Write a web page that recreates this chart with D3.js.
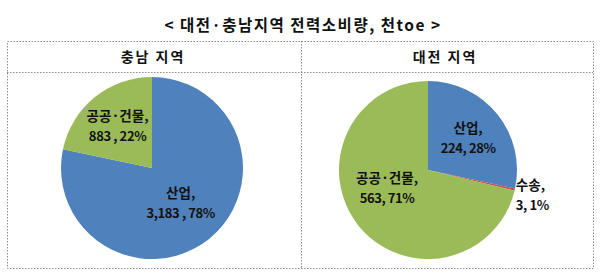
<!DOCTYPE html>
<meta charset="UTF-8">
<style>
body { margin: 0; background: #fff; }
text { font-family: "Noto Sans CJK KR", "Noto Sans", sans-serif; fill: #111; }
.title { font-size: 15.5px; font-weight: bold; letter-spacing: 1.5px; }
.head { font-size: 14px; font-weight: bold; letter-spacing: 2px; }
.lbl { font-size: 13.5px; font-weight: bold; }
.num { font-size: 13px; font-weight: bold; letter-spacing: -0.4px; }
.frame { fill: none; stroke: #8a8a8a; stroke-width: 1px; stroke-dasharray: 1.5,1.5; }
</style>
<body>
<script src="https://d3js.org/d3.v7.min.js"></script>
<script>

// chart data
var titleText = "< 대전·충남지역 전력소비량, 천toe >";
var regionNames = ["충남 지역", "대전 지역"];

var chungnamCats = ["산업", "공공·건물"];
var chungnamValues = [3183, 883];
var chungnamLabels = ["3,183 , 78%", "883 , 22%"];

var daejeonCats = ["산업", "수송", "공공·건물"];
var daejeonValues = [224, 3, 563];
var daejeonLabels = ["224, 28%", "3, 1%", "563, 71%"];

var colors = {"산업": "#4f81bd", "공공·건물": "#9bbb59", "수송": "#c0504d"};

var width = 600, height = 275;

var svg = d3.select("body").append("svg")
    .attr("width", width)
    .attr("height", height);

// title
svg.append("text")
    .attr("class", "title")
    .attr("x", 303)
    .attr("y", 31)
    .attr("text-anchor", "middle")
    .text(titleText);

// dotted table frame
var box = {left: 7, right: 593, top: 41, bottom: 268, headLine: 72, divider: 301};
svg.append("rect").attr("class", "frame")
    .attr("x", box.left + 0.5).attr("y", box.top + 0.5)
    .attr("width", box.right - box.left).attr("height", box.bottom - box.top);
svg.append("line").attr("class", "frame")
    .attr("x1", box.left).attr("x2", box.right)
    .attr("y1", box.headLine + 0.5).attr("y2", box.headLine + 0.5);
svg.append("line").attr("class", "frame")
    .attr("x1", box.divider + 0.5).attr("x2", box.divider + 0.5)
    .attr("y1", box.top).attr("y2", box.bottom);

// region headers
var headX = [153, 445];
regionNames.forEach(function(n, i) {
  svg.append("text")
      .attr("class", "head")
      .attr("x", headX[i])
      .attr("y", 62)
      .attr("text-anchor", "middle")
      .text(n.replace(" ", "  "));
});

var pie = d3.pie().sort(null).value(function(d) { return d.value; });

function drawPie(cats, values, labels, cx, cy, r, labelCfg) {
  var data = cats.map(function(c, i) {
    return {cat: c, value: values[i], label: labels[i]};
  });
  var arcs = pie(data);
  var arc = d3.arc().innerRadius(0).outerRadius(r);
  var g = svg.append("g").attr("transform", "translate(" + cx + "," + cy + ")");

  g.selectAll("path.slice")
      .data(arcs)
      .enter().append("path")
      .attr("class", "slice")
      .attr("d", arc)
      .attr("fill", function(d) { return colors[d.data.cat]; });

  var lab = g.selectAll("g.lab")
      .data(arcs)
      .enter().append("g")
      .attr("class", "lab")
      .attr("transform", function(d, i) {
        var cfg = labelCfg[i];
        var la = d3.arc().innerRadius(r * cfg.k).outerRadius(r * cfg.k);
        var c = la.centroid(d);
        return "translate(" + (c[0] + cfg.dx) + "," + (c[1] + cfg.dy) + ")";
      });

  lab.append("text")
      .attr("class", "lbl")
      .attr("text-anchor", function(d, i) { return labelCfg[i].anchor; })
      .attr("y", -5)
      .text(function(d) { return d.data.cat + ","; });
  lab.append("text")
      .attr("class", "num")
      .attr("text-anchor", function(d, i) { return labelCfg[i].anchor; })
      .attr("y", 15)
      .text(function(d) { return d.data.label; });
}

drawPie(chungnamCats, chungnamValues, chungnamLabels, 152, 168, 91, [
  {k: 0.5, dx: 0, dy: 0, anchor: "middle"},
  {k: 0.6, dx: 0, dy: 0, anchor: "middle"}
]);

drawPie(daejeonCats, daejeonValues, daejeonLabels, 428, 170, 89, [
  {k: 0.58, dx: 0, dy: 0, anchor: "middle"},
  {k: 1.0, dx: 1, dy: 5, anchor: "start"},
  {k: 0.5, dx: -6, dy: -10, anchor: "middle"}
]);

</script>
</body>
